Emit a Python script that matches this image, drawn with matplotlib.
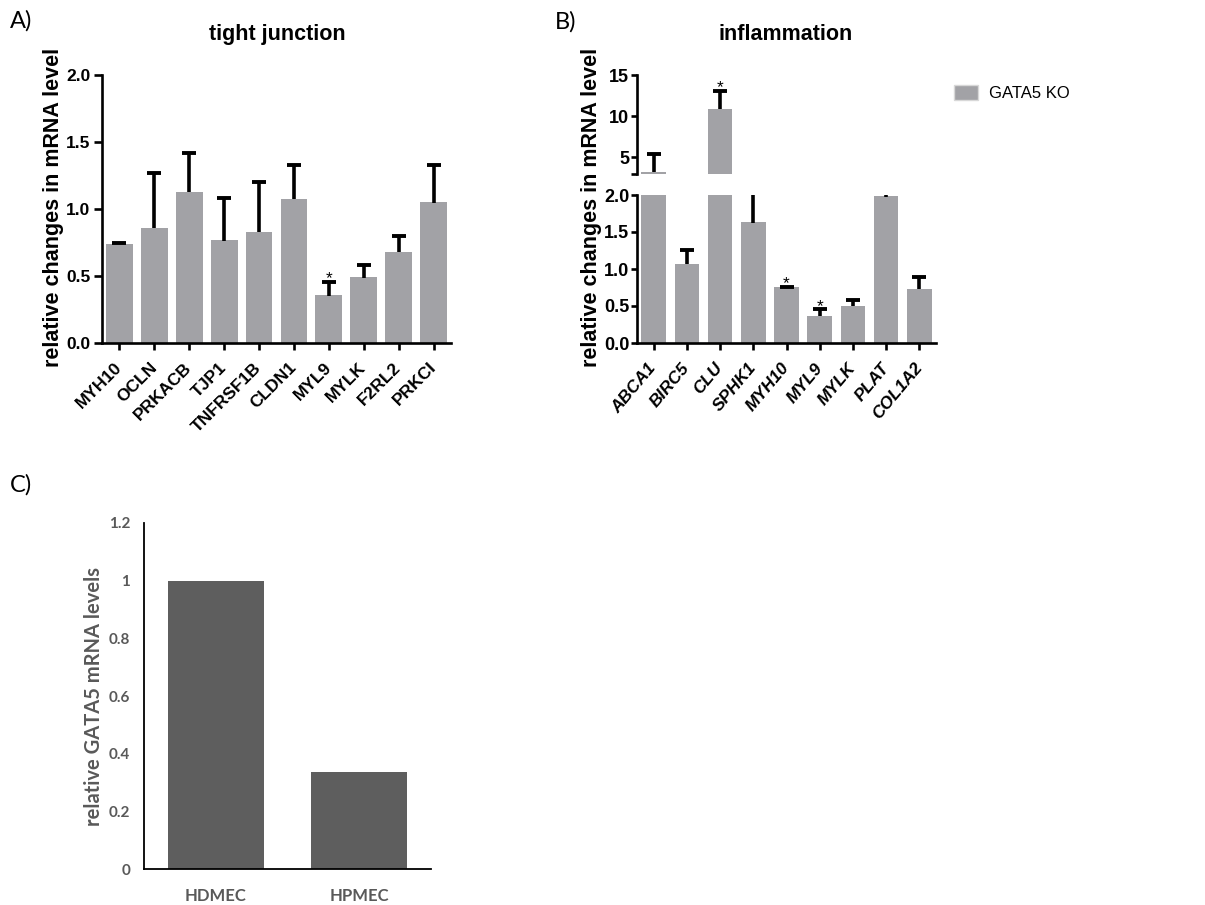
import matplotlib.pyplot as plt
import numpy as np
from matplotlib.patches import Patch

plt.rcParams['font.family'] = ['Liberation Sans', 'DejaVu Sans']

# A) tight junction genes, GATA5 KO vs control
tj_genes = ['MYH10', 'OCLN', 'PRKACB', 'TJP1', 'TNFRSF1B', 'CLDN1', 'MYL9', 'MYLK', 'F2RL2', 'PRKCI']
tj_mean = [0.74, 0.86, 1.13, 0.765, 0.83, 1.075, 0.355, 0.49, 0.68, 1.05]
tj_err = [0.005, 0.41, 0.29, 0.32, 0.37, 0.25, 0.10, 0.095, 0.12, 0.275]
tj_sig = ['MYL9']

# B) inflammation genes
inf_genes = ['ABCA1', 'BIRC5', 'CLU', 'SPHK1', 'MYH10', 'MYL9', 'MYLK', 'PLAT', 'COL1A2']
inf_mean = [3.2, 1.07, 10.85, 1.63, 0.75, 0.365, 0.50, 1.98, 0.73]
inf_err = [2.2, 0.19, 2.25, 0.9, 0.005, 0.09, 0.08, 0.5, 0.165]
inf_sig = ['CLU', 'MYH10', 'MYL9']

# C) GATA5 expression in endothelial cells
cells = ['HDMEC', 'HPMEC']
gata5 = [1.0, 0.335]

bar_grey = '#a2a2a6'
dark_grey = '#5e5e5e'
txt_grey = '#595959'

W, H = 1205, 905
fig = plt.figure(figsize=(W / 100, H / 100), dpi=100)


def box(x0, y0, x1, y1):
    # pixel box (top-left origin) -> figure fraction
    return [x0 / W, 1 - y1 / H, (x1 - x0) / W, (y1 - y0) / H]


def prism_style(ax, size):
    ax.spines['top'].set_visible(False)
    ax.spines['right'].set_visible(False)
    ax.spines['left'].set_linewidth(1.9)
    ax.spines['bottom'].set_linewidth(1.9)
    ax.tick_params(width=1.9, labelsize=size)


def draw_bars(ax, means, errs, width):
    # bars with upper-only error bars (line + single cap)
    x = np.arange(len(means))
    tops = np.array(means) + np.array(errs)
    ax.bar(x, means, width, color=bar_grey, zorder=2)
    ax.vlines(x, np.array(means) - 0.003, tops, color='black', lw=2.6, zorder=3)
    ax.plot(x, tops, ls='none', marker='_', ms=10, mew=2.8, color='black', zorder=3)
    return x


def stars(ax, genes, means, errs, sig):
    for i, g in enumerate(genes):
        if g in sig:
            ax.annotate('*', (i, means[i] + errs[i]), xytext=(0, -1),
                        textcoords='offset points', ha='center', va='baseline',
                        fontsize=12.5)


# ---- A ----
axA = fig.add_axes(box(102, 75, 451, 343))
prism_style(axA, 12.5)
axA.tick_params(axis='y', length=5.5, pad=3)
axA.tick_params(axis='x', length=5, pad=11)
xa = draw_bars(axA, tj_mean, tj_err, 0.77)
stars(axA, tj_genes, tj_mean, tj_err, tj_sig)
axA.set_xlim(-0.5, len(tj_genes) - 0.5)
axA.set_ylim(0, 2.0)
axA.set_yticks([0, 0.5, 1.0, 1.5, 2.0], ['0.0', '0.5', '1.0', '1.5', '2.0'], fontweight='bold')
axA.set_xticks(xa, tj_genes, rotation=45, ha='right', va='center',
               rotation_mode='anchor', fontweight='bold', fontsize=12.5)
fig.text(53 / W, 1 - 207 / H, 'relative changes in mRNA level', rotation=90,
         ha='center', va='center', fontsize=15.5, fontweight='bold')
fig.text(277 / W, 1 - 40 / H, 'tight junction', ha='center', va='baseline',
         fontsize=15.5, fontweight='bold')

# ---- B (broken y axis) ----
axB_top = fig.add_axes(box(637, 75, 936, 174))
axB = fig.add_axes(box(637, 195, 936, 343))
for ax in (axB_top, axB):
    prism_style(ax, 13)
    ax.tick_params(axis='y', length=4, pad=1.5)
    draw_bars(ax, inf_mean, inf_err, 0.74)
    ax.set_xlim(-0.5, len(inf_genes) - 0.5)
stars(axB_top, inf_genes, inf_mean, inf_err, inf_sig)
stars(axB, inf_genes, inf_mean, inf_err, inf_sig)
axB_top.set_ylim(3, 15)
axB_top.set_yticks([3, 5, 10, 15], ['', '5', '10', '15'], fontweight='bold')
axB_top.spines['bottom'].set_visible(False)
axB_top.set_xticks([])
axB.set_ylim(0, 2.0)
axB.set_yticks([0, 0.5, 1.0, 1.5, 2.0], ['0.0', '0.5', '1.0', '1.5', '2.0'], fontweight='bold')
axB.tick_params(axis='x', length=5, pad=11)
axB.set_xticks(np.arange(len(inf_genes)), inf_genes, rotation=50, ha='right', va='center',
               rotation_mode='anchor', fontweight='bold', fontstyle='italic', fontsize=12.5)
fig.text(592 / W, 1 - 207 / H, 'relative changes in mRNA level', rotation=90,
         ha='center', va='center', fontsize=15.5, fontweight='bold')
fig.text(786 / W, 1 - 40 / H, 'inflammation', ha='center', va='baseline',
         fontsize=15.5, fontweight='bold')
fig.legend(handles=[Patch(facecolor=bar_grey, edgecolor='#d8d8d8', label='GATA5 KO')],
           loc='center left', bbox_to_anchor=(954 / W, 1 - 93 / H), frameon=False,
           borderaxespad=0, borderpad=0,
           handlelength=1.44, handleheight=1.0, handletextpad=0.66,
           prop={'size': 12})

# ---- C ----
axC = fig.add_axes(box(144, 523, 431, 869))
axC.bar(np.arange(len(cells)), gata5, 0.67, color=dark_grey)
axC.spines['top'].set_visible(False)
axC.spines['right'].set_visible(False)
axC.spines['left'].set_linewidth(1.3)
axC.spines['bottom'].set_linewidth(1.3)
axC.set_xlim(-0.5, 1.5)
axC.set_ylim(0, 1.2)
axC.set_yticks([0, 0.2, 0.4, 0.6, 0.8, 1.0, 1.2], ['0', '0.2', '0.4', '0.6', '0.8', '1', '1.2'])
axC.set_xticks(np.arange(len(cells)), cells)
axC.tick_params(axis='y', length=0, pad=10, labelsize=11, labelcolor=txt_grey)
axC.tick_params(axis='x', length=0, pad=14, labelsize=12, labelcolor=txt_grey)
for lbl in axC.get_xticklabels() + axC.get_yticklabels():
    lbl.set_fontweight('bold')
    lbl.set_family(['Lato', 'DejaVu Sans'])
fig.text(94 / W, 1 - 696 / H, 'relative GATA5 mRNA levels', rotation=90,
         ha='center', va='center', fontsize=14.5, fontweight='bold', color=txt_grey,
         family=['Lato', 'DejaVu Sans'])

# panel letters
for letter, px, py in [('A)', 10, 21), ('B)', 555, 22), ('C)', 10, 485)]:
    fig.text(px / W, 1 - py / H, letter, ha='left', va='center', fontsize=17,
             family=['Lato', 'DejaVu Sans'])

plt.savefig('out.png', dpi=100)
